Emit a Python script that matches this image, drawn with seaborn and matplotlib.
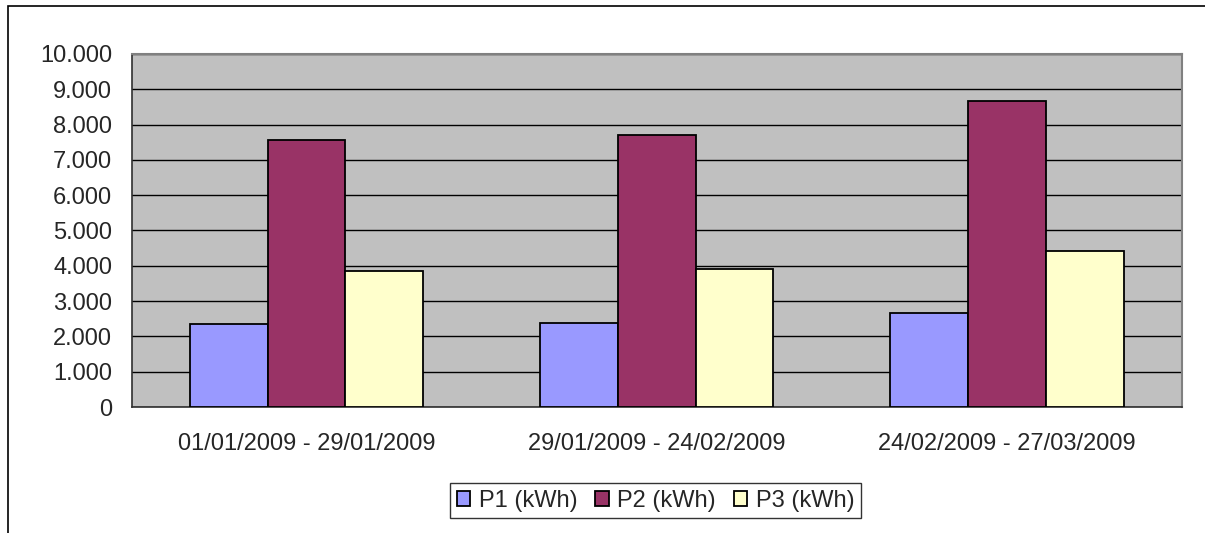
import pandas as pd
import seaborn as sns
import matplotlib
matplotlib.use("Agg")
from matplotlib import pyplot as plt
from matplotlib.ticker import FuncFormatter, FixedLocator
from matplotlib.patches import Rectangle

# dados
periodos = ["01/01/2009 - 29/01/2009", "29/01/2009 - 24/02/2009", "24/02/2009 - 27/03/2009"]
series = ["P1 (kWh)", "P2 (kWh)", "P3 (kWh)"]
p1 = [2347, 2384, 2668]
p2 = [7559, 7701, 8666]
p3 = [3851, 3916, 4410]
cores = ["#9999FF", "#993366", "#FFFFCC"]

df = pd.DataFrame({
    "periodo": periodos * 3,
    "serie": [s for s in series for _ in periodos],
    "kwh": p1 + p2 + p3,
})

sns.set_style("white")
plt.rcParams["font.family"] = ["Liberation Sans", "DejaVu Sans"]
fs = 17

fig = plt.figure(figsize=(12.05, 5.33), dpi=100)
ax = fig.add_axes([131.5 / 1205, 1 - 407 / 533, (1182 - 131.5) / 1205, (407 - 54) / 533])

sns.barplot(data=df, x="periodo", y="kwh", hue="serie", palette=cores, saturation=1,
            edgecolor="black", linewidth=1.3, width=3 / 4.5, ax=ax, zorder=3)

ax.set_facecolor("#C0C0C0")
ax.set_xlim(-0.5, 2.5)
ax.set_ylim(0, 10000)
ax.yaxis.set_major_locator(FixedLocator(range(0, 10001, 1000)))
ax.yaxis.set_major_formatter(FuncFormatter(lambda v, p: f"{int(v):,}".replace(",", ".")))
ax.grid(axis="y", color="black", linewidth=1, zorder=1)
ax.set_axisbelow(True)

# marcas do eixo x entre as categorias
ax.xaxis.set_minor_locator(FixedLocator([-0.5, 0.5, 1.5, 2.5]))
ax.tick_params(axis="x", which="major", length=0, pad=18.5, labelsize=fs)
ax.tick_params(axis="x", which="minor", length=7, width=1, color="#404040", direction="out")
ax.tick_params(axis="y", length=7, width=1, color="#404040", direction="out", labelsize=fs, pad=7)
ax.set_xlabel("")
ax.set_ylabel("")

for lado in ["left", "bottom"]:
    ax.spines[lado].set_color("#303030")
    ax.spines[lado].set_linewidth(1.2)
for lado in ["top", "right"]:
    ax.spines[lado].set_color("#808080")
    ax.spines[lado].set_linewidth(1.5)

handles, labels = ax.get_legend_handles_labels()
ax.legend_.remove()
leg = fig.legend(handles, labels, loc="center", bbox_to_anchor=(655.5 / 1205, 1 - 500.5 / 533),
                 ncol=3, frameon=True, fancybox=False, edgecolor="black", fontsize=fs,
                 handlelength=0.58, handleheight=0.58, handletextpad=0.36, columnspacing=0.75,
                 borderpad=0.28, borderaxespad=0)
leg.get_frame().set_linewidth(1)

# borda da área do gráfico
fig.patches.append(Rectangle((8 / 1205, -0.1), 1.2, 1 - 6.5 / 533 + 0.1, transform=fig.transFigure,
                             fill=False, edgecolor="black", linewidth=1.2))

fig.savefig("out.png", dpi=100)
